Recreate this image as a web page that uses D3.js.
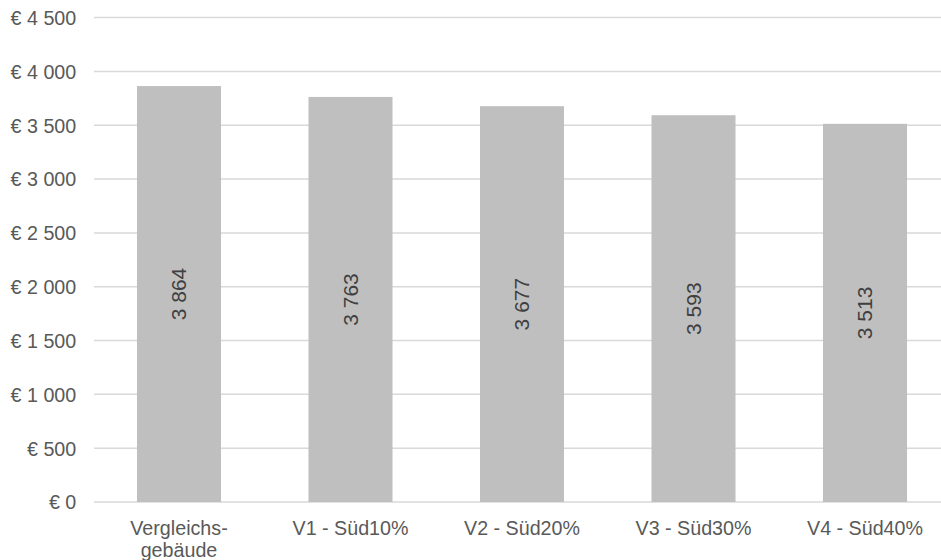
<!DOCTYPE html>
<html><head><meta charset="utf-8">
<script src="https://cdn.jsdelivr.net/npm/d3@7"></script>
<style>body{margin:0;background:#fff}svg{display:block;font-family:"Liberation Sans",Arial,sans-serif}</style>
</head><body><div id="chart"></div>
<script>
const categories = ["Vergleichs-\ngebäude","V1 - Süd10%","V2 - Süd20%","V3 - Süd30%","V4 - Süd40%"];
const values = [3864, 3763, 3677, 3593, 3513];
const yTicks = [0,500,1000,1500,2000,2500,3000,3500,4000,4500];

const W=941,H=560;
const svg=d3.select("#chart").append("svg").attr("width",W).attr("height",H);
const x0=93.25, x1=950.75, yTop=17.6, yBot=502;
const x=d3.scaleBand().domain(categories).range([x0,x1]).paddingInner(0.51).paddingOuter(0.255);
const y=d3.scaleLinear().domain([0,4500]).range([yBot,yTop]);
const fmt=v=>String(v).replace(/\B(?=(\d{3})+(?!\d))/g," ");

svg.append("g").selectAll("line").data(yTicks).join("line")
  .attr("x1",x0+0.75).attr("x2",W).attr("y1",d=>y(d)).attr("y2",d=>y(d))
  .attr("stroke","#D9D9D9").attr("stroke-width",1.5);

const yAxis=d3.axisLeft(y).tickValues(yTicks).tickSize(0).tickPadding(17).tickFormat(d=>"€ "+fmt(d));
const gy=svg.append("g").attr("transform",`translate(${x0},0)`).call(yAxis);
gy.select(".domain").remove();
gy.selectAll("text").attr("fill","#595959").attr("dy","0.35em").style("font-size","19.7px").style("font-family","'Liberation Sans',Arial,sans-serif");

svg.append("g").selectAll("rect").data(values).join("rect")
  .attr("x",(d,i)=>x(categories[i])).attr("width",x.bandwidth())
  .attr("y",d=>y(d)).attr("height",d=>y(0)-y(d)).attr("fill","#BFBFBF");

svg.append("g").selectAll("text").data(values).join("text")
  .attr("transform",(d,i)=>`translate(${x(categories[i])+x.bandwidth()/2},${(y(d)+y(0))/2}) rotate(-90)`)
  .attr("text-anchor","middle").attr("dy","0.35em").attr("fill","#404040")
  .style("font-size","21px").text(d=>fmt(d));

const xAxis=d3.axisBottom(x).tickSize(0).tickFormat("");
const gx=svg.append("g").attr("transform",`translate(0,${yBot})`).call(xAxis);
gx.select(".domain").remove();
gx.selectAll(".tick").each(function(d){
  const t=d3.select(this).append("text").attr("text-anchor","middle").attr("fill","#595959")
    .style("font-size","19.7px").style("font-family","'Liberation Sans',Arial,sans-serif");
  d.split("\n").forEach((line,j)=>t.append("tspan").attr("x",0).attr("y",33+j*21.5).text(line));
});
</script></body></html>
